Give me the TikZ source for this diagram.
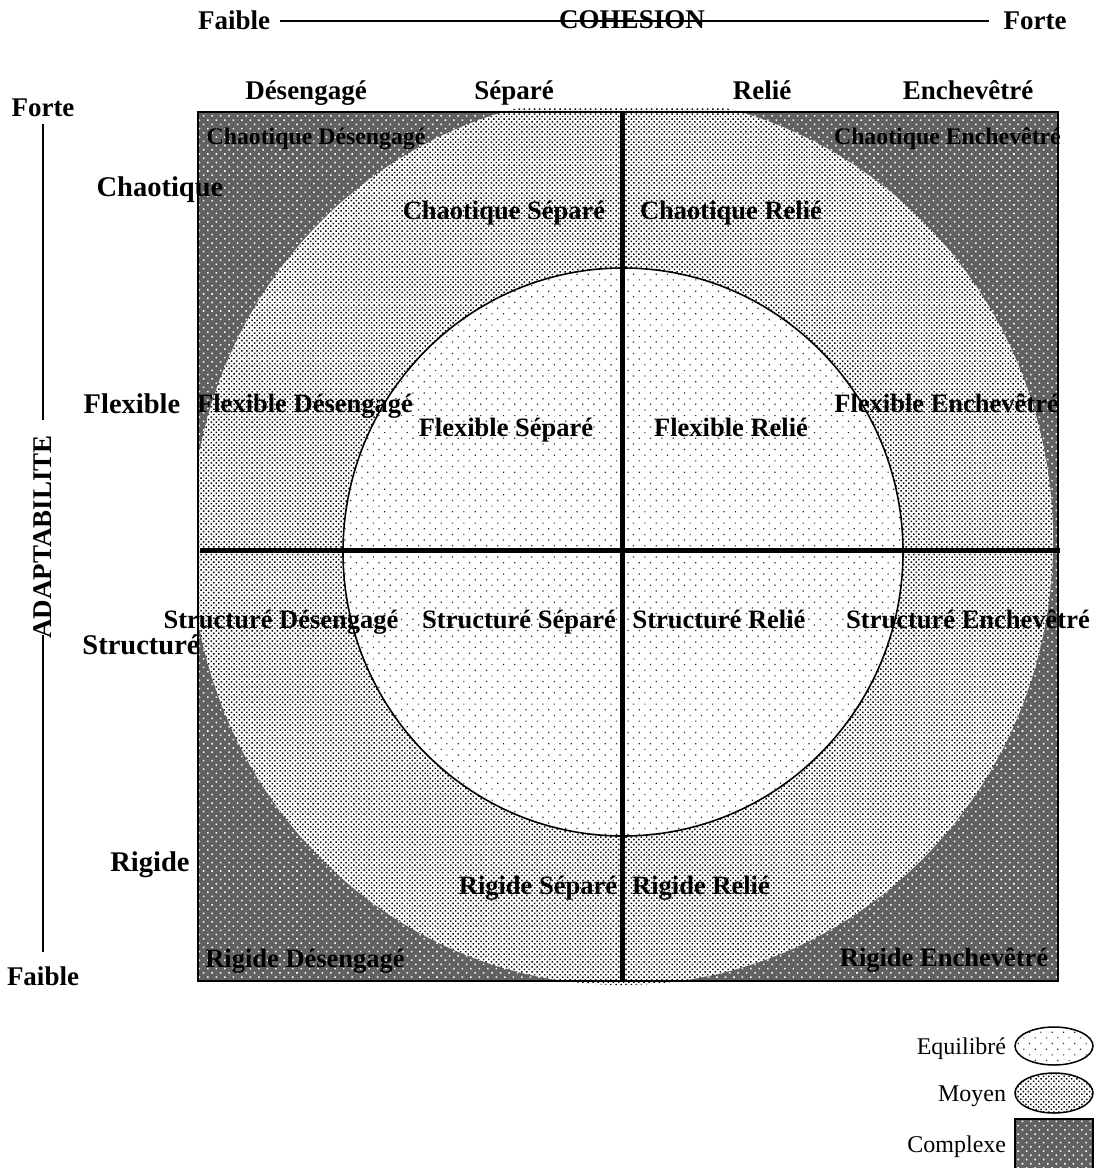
\documentclass[tikz,border=0pt]{standalone}
\usepackage{fontspec}
\setmainfont{Liberation Serif}
\usetikzlibrary{positioning,shapes.geometric,patterns.meta}
\definecolor{cplxgray}{gray}{0.38}

\begin{document}
\begin{tikzpicture}[x=1pt, y=-1pt,
    hdr/.style={font=\bfseries\fontsize{27}{29}\selectfont, inner sep=0pt, text height=17.6pt, text depth=0pt},
    rowlbl/.style={font=\bfseries\fontsize{28.5}{30}\selectfont, inner sep=0pt, text height=18.3pt, text depth=0pt},
    zone/.style={font=\bfseries\fontsize{26.5}{28}\selectfont, inner sep=0pt, text height=17.4pt, text depth=0pt},
    zonesm/.style={zone, font=\bfseries\fontsize{23.8}{26}\selectfont, text height=15.7pt},
    legtxt/.style={font=\fontsize{24}{26}\selectfont, inner sep=0pt, text height=16pt, text depth=0pt},
    complexe/.style={fill=cplxgray, postaction={pattern={Dots[distance=6pt, radius=1.1pt, angle=45]}, pattern color=white}},
    moyen/.style={fill=white, postaction={pattern={Dots[distance=3.6pt, radius=1.05pt, angle=45]}, pattern color=black}},
    equilibre/.style={fill=white, postaction={pattern={Dots[distance=8pt, radius=0.85pt, angle=45]}, pattern color=black!85}},
    axe/.style={line width=5pt},
]
    \useasboundingbox (0,0) rectangle (1094,1168);

    % Zones (complexe, moyen, equilibre)
    \path[complexe] (198,112) rectangle (1058,981);
    \begin{scope}
        \clip (198,108) rectangle (1058,985);
        \path[moyen] (622,540) ellipse [x radius=431, y radius=445];
    \end{scope}
    \path[equilibre, draw, line width=1.6pt] (623,552) ellipse [x radius=280, y radius=284];
    \draw[line width=1.8pt] (198,112) rectangle (1058,981);

    % Quadrant axes
    \draw[axe] (200,550) -- (1060,550);
    \draw[axe] (622,112) -- (622,981);

    % Cohesion axis
    \node[hdr] (faibleC) at (234,21) {Faible};
    \node[hdr] (forteC) at (1035,21) {Forte};
    \draw[line width=1.8pt, shorten <=10pt, shorten >=14pt] (faibleC.east) -- (forteC.west);
    \node[hdr] (cohesion) at (632,20) {COHESION};

    \foreach \x/\name/\lbl in {306/cDes/Désengagé, 514/cSep/Séparé, 762/cRel/Relié, 968/cEnc/Enchevêtré} {
        \node[hdr] (\name) at (\x,91) {\lbl};
    }

    % Adaptabilite axis
    \node[hdr] (forteA) at (43,108) {Forte};
    \node[hdr] (faibleA) at (43,977) {Faible};
    \node[hdr, rotate=90] (adapt) at (43,537) {ADAPTABILITE};
    \draw[line width=1.8pt, shorten <=7pt, shorten >=15pt] (forteA.south) -- (adapt.east);
    \draw[line width=1.8pt, shorten <=-4pt, shorten >=16pt] (adapt.west) -- (faibleA.north);

    \node[rowlbl] (rChao) at (160,187) {Chaotique};
    \node[rowlbl] (rFlex) at (132,404) {Flexible};
    \node[rowlbl] (rStru) at (141,645) {Structuré};
    \node[rowlbl] (rRig) at (150,862) {Rigide};

    % Family types
    \node[zonesm] (chDes) at (316,137) {Chaotique Désengagé};
    \node[zonesm, anchor=east] (chEnc) at (1061,137) {Chaotique Enchevêtré};
    \node[zone] (chSep) at (504,211) {Chaotique Séparé};
    \node[zone] (chRel) at (731,211) {Chaotique Relié};
    \node[zone] (flDes) at (305,404) {Flexible Désengagé};
    \node[zone, anchor=east] (flEnc) at (1059,404) {Flexible Enchevêtré};
    \node[zone] (flSep) at (506,428) {Flexible Séparé};
    \node[zone] (flRel) at (731,428) {Flexible Relié};
    \node[zone] (stDes) at (281,620) {Structuré Désengagé};
    \node[zone] (stSep) at (519,620) {Structuré Séparé};
    \node[zone] (stRel) at (719,620) {Structuré Relié};
    \node[zone] (stEnc) at (968,620) {Structuré Enchevêtré};
    \node[zone] (riSep) at (538,886) {Rigide Séparé};
    \node[zone] (riRel) at (701,886) {Rigide Relié};
    \node[zone] (riDes) at (305,959) {Rigide Désengagé};
    \node[zone] (riEnc) at (944,958) {Rigide Enchevêtré};

    % Legend
    \node[ellipse, draw, line width=1.5pt, equilibre, minimum width=78pt, minimum height=38pt, inner sep=0pt] (legEqShape) at (1054,1046) {};
    \node[ellipse, draw, line width=1.5pt, moyen, minimum width=78pt, minimum height=40pt, inner sep=0pt] (legMoShape) at (1054,1093) {};
    \node[rectangle, draw, line width=1.5pt, complexe, minimum width=78pt, minimum height=50pt, inner sep=0pt] (legCoShape) at (1054,1144) {};
    \node[legtxt, left=8pt of legEqShape] (legEq) {Equilibré};
    \node[legtxt, left=8pt of legMoShape] (legMo) {Moyen};
    \node[legtxt, left=8pt of legCoShape] (legCo) {Complexe};
\end{tikzpicture}
\end{document}
